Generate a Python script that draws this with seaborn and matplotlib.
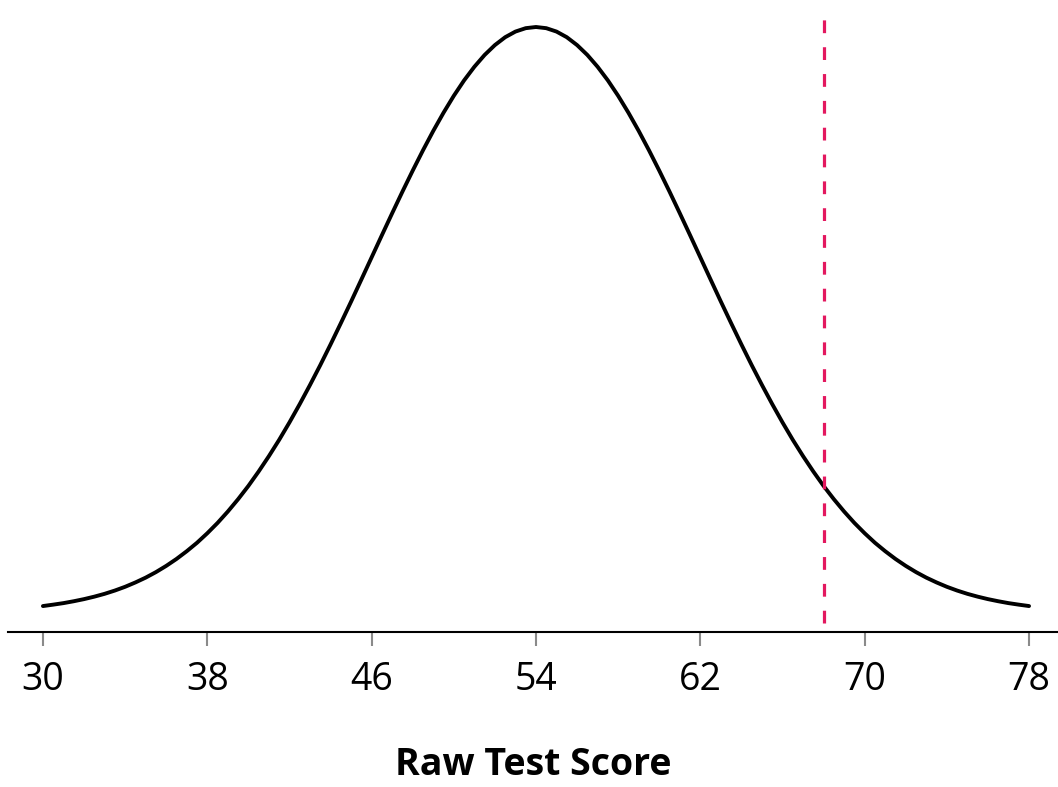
import numpy as np
import pandas as pd
import seaborn as sns
import matplotlib.pyplot as plt

# density every half point of raw score (30 .. 78)
scores = np.arange(30, 78.5, 0.5)
density = [0.00055, 0.00067, 0.00080, 0.00096, 0.00114, 0.00135, 0.00159,
           0.00187, 0.00219, 0.00256, 0.00297, 0.00344, 0.00397, 0.00456,
           0.00522, 0.00594, 0.00675, 0.00763, 0.00860, 0.00965, 0.01078,
           0.01201, 0.01332, 0.01471, 0.01619, 0.01775, 0.01938, 0.02107,
           0.02283, 0.02464, 0.02648, 0.02836, 0.03025, 0.03214, 0.03401,
           0.03585, 0.03764, 0.03937, 0.04102, 0.04257, 0.04401, 0.04532,
           0.04648, 0.04749, 0.04833, 0.04900, 0.04948, 0.04977, 0.04987,
           0.04977, 0.04948, 0.04900, 0.04833, 0.04749, 0.04648, 0.04532,
           0.04401, 0.04257, 0.04102, 0.03937, 0.03764, 0.03585, 0.03401,
           0.03214, 0.03025, 0.02836, 0.02648, 0.02464, 0.02283, 0.02107,
           0.01938, 0.01775, 0.01619, 0.01471, 0.01332, 0.01201, 0.01078,
           0.00965, 0.00860, 0.00763, 0.00675, 0.00594, 0.00522, 0.00456,
           0.00397, 0.00344, 0.00297, 0.00256, 0.00219, 0.00187, 0.00159,
           0.00135, 0.00114, 0.00096, 0.00080, 0.00067, 0.00055]
cutoff = 68
tick_values = [30, 38, 46, 54, 62, 70, 78]

sns.set_theme(style="white")
plt.rcParams['font.family'] = ['Open Sans', 'DejaVu Sans']
plt.rcParams['text.color'] = 'black'
plt.rcParams['xtick.color'] = 'black'
plt.rcParams['axes.labelcolor'] = 'black'

df = pd.DataFrame({"score": scores, "density": density})

fig = plt.figure(figsize=(10.58, 7.87), dpi=100)
ax = fig.add_axes([8 / 1058, 1 - 632 / 787, 1050 / 1058, 632 / 787])

sns.lineplot(data=df, x="score", y="density", color="black", lw=2.8, ax=ax)
ax.axvline(cutoff, ymin=0.014, ymax=0.984, color="#E3185F", lw=2.3,
           linestyle=(0, (4.0, 4.4)))

ax.set_xlim(28.3, 79.41)
ax.set_ylim(-0.00166, 0.05217)
ax.set_xticks(tick_values)
ax.set_xticklabels([str(t) for t in tick_values])
ax.set_yticks([])
ax.set_ylabel("")
ax.set_xlabel("Raw Test Score", fontsize=27, fontweight="bold", labelpad=34)
ax.tick_params(axis="x", direction="out", length=10, width=1.5,
               color="#8a8a8a", labelcolor="black", labelsize=27, pad=11,
               bottom=True)

for side in ["left", "right", "top"]:
    ax.spines[side].set_visible(False)
ax.spines["bottom"].set_color("black")
ax.spines["bottom"].set_linewidth(1.5)

fig.savefig("out.png", dpi=100)
